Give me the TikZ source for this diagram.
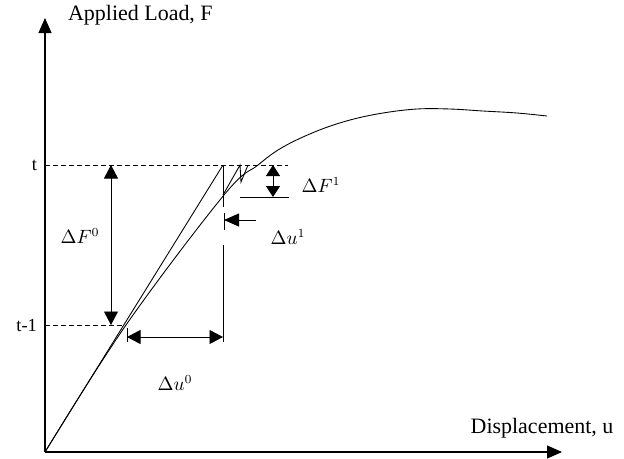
\documentclass[tikz,border=0pt]{standalone}
\usepackage{fontspec}
\setmainfont{Liberation Serif}
\usetikzlibrary{arrows.meta}

\begin{document}
\begin{tikzpicture}[
  x=0.02cm, y=0.02cm,
  axis/.style={-{Triangle[length=3mm, width=2.6mm]}, line width=0.6pt},
  dimarr/.style={{Triangle[length=2.7mm, width=2.8mm]}-{Triangle[length=2.7mm, width=2.8mm]}, line width=0.5pt},
  smallarr/.style={{Triangle[length=2.2mm, width=2.8mm]}-{Triangle[length=2.2mm, width=2.8mm]}, line width=0.5pt},
  pusharr/.style={{Triangle[length=3mm, width=2.6mm]}-, line width=0.5pt},
  guide/.style={dash pattern=on 1mm off 0.6mm, line width=0.5pt},
  stroke/.style={line width=0.5pt},
  lbl/.style={font=\fontsize{10.5}{12}\selectfont, inner sep=1pt},
  axlbl/.style={font=\fontsize{12.5}{14}\selectfont, inner sep=1pt}
]
\useasboundingbox (0,0) rectangle (624,458);

% axes
\coordinate (O) at (45,6);
\coordinate (ytip) at (45,440);
\coordinate (xtip) at (562,6);
\draw[axis] (O) -- (ytip);
\draw[axis] (O) -- (xtip);
\node[axlbl, anchor=west] (ylab) at (66,443) {Applied Load, F};
\node[axlbl] (xlab) at (542,30) {Displacement, u};

% load levels
\coordinate (tL) at (45,293);
\coordinate (tR) at (288,293);
\coordinate (t1L) at (45,133);
\coordinate (P0) at (126,133);
\draw[guide] (tL) -- (tR);
\draw[guide] (t1L) -- (P0);
\node[lbl, anchor=east] (tlab) at (39,293) {t};
\node[lbl, anchor=east] (t1lab) at (39,133) {t-1};

% load-displacement curve
\draw[stroke] plot[smooth, tension=0.6] coordinates {(45,6) (126,133) (224,263) (258,293)
  (283,311) (317,327) (350,338) (383,345) (417,349) (450,349) (483,347) (517,345) (547,342)};

% first predictor
\coordinate (A) at (223,293);
\coordinate (C1) at (223,263);
\draw[stroke] (O) -- (A);
\draw[stroke] (A) -- (223,251);
\draw[stroke] (223,213) -- (223,116);

% corrector iterations
\coordinate (B) at (240,293);
\coordinate (B1) at (241,276);
\coordinate (B2) at (248,293);
\draw[stroke] (C1) -- (B) -- (B1) -- (B2);

% increments
\draw[dimarr] (111,293) -- (111,133);
\node[lbl] (dF0) at (80,222) {$\Delta F^0$};
\draw[stroke] (127,130) -- (127,116);
\draw[dimarr] (127,121) -- (223,121);
\node[lbl] (du0) at (175,75) {$\Delta u^0$};
\draw[smallarr] (273,293) -- (273,261);
\draw[stroke] (240,261) -- (289,261);
\node[lbl] (dF1) at (321,273) {$\Delta F^1$};
\draw[stroke] (224,245) -- (224,228);
\draw[pusharr] (224,238) -- (256,238);
\node[lbl] (du1) at (288,221) {$\Delta u^1$};
\end{tikzpicture}
\end{document}
